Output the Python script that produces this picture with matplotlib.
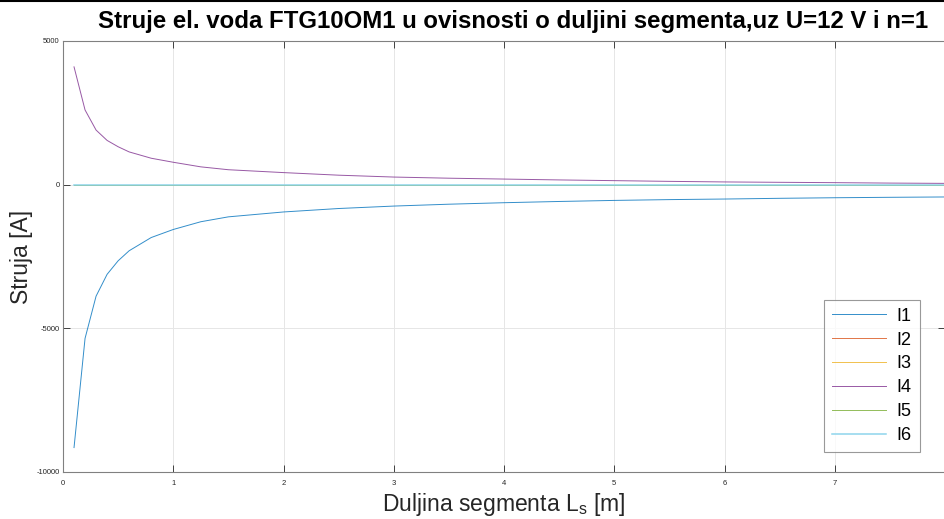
import matplotlib
matplotlib.use("Agg")
import matplotlib.pyplot as plt
from matplotlib.lines import Line2D

# segment length [m]
L = [0.1, 0.2, 0.3, 0.4, 0.5, 0.6, 0.8, 1.0, 1.25, 1.5, 2.0, 2.5, 3.0, 3.5,
     4.0, 4.5, 5.0, 5.5, 6.0, 6.5, 7.0, 7.5, 8.0]

# currents [A]
I1 = [-9150, -5350, -3880, -3120, -2650, -2300, -1840, -1560, -1290, -1120, -950,
      -830, -745, -680, -628, -585, -548, -520, -500, -475, -455, -440, -428]
I2 = [0] * len(L)
I3 = [0] * len(L)
I4 = [4100, 2600, 1900, 1540, 1320, 1140, 920, 780, 620, 520, 420, 330, 265, 225,
      195, 165, 140, 115, 95, 82, 70, 55, 45]
I5 = [0] * len(L)
I6 = [0] * len(L)

series = [("I1", I1, "#0072BD"), ("I2", I2, "#D95319"), ("I3", I3, "#EDB120"),
          ("I4", I4, "#7E2F8E"), ("I5", I5, "#77AC30"), ("I6", I6, "#8ED5EC")]

plt.rcParams['font.family'] = ['Liberation Sans', 'DejaVu Sans']
plt.rcParams['axes.unicode_minus'] = False

fig = plt.figure(figsize=(9.44, 5.19), dpi=100)
ax = fig.add_axes([63 / 944, 1 - 472 / 519, 882 / 944, (472 - 41) / 519])

for name, vals, col in series:
    if name == "I6":
        # drawn on top of the other zero-valued currents
        ax.plot(L, vals, color=col, linewidth=1.1, label=name, zorder=3)
    else:
        ax.plot(L, vals, color=col, linewidth=0.7, alpha=0.8, label=name)

ax.set_xlim(0, 8)
ax.set_ylim(-10000, 5000)
ax.set_xticks(range(0, 8))
ax.set_yticks([-10000, -5000, 0, 5000])
ax.tick_params(direction='in', labelsize=5.5, colors='#262626', length=5, width=0.6,
               top=True, right=True)
ax.tick_params(axis='y', pad=2.5)
ax.tick_params(axis='x', pad=6)
for sp in ax.spines.values():
    sp.set_color('#808080')
    sp.set_linewidth(0.8)
ax.grid(True, color='#e6e6e6', linewidth=0.7)

ax.set_title('Struje el. voda FTG10OM1 u ovisnosti o duljini segmenta,uz U=12 V i n=1',
             fontsize=17.3, fontweight='bold', pad=9, x=0.51)
ax.set_xlabel('Duljina segmenta L$_\\mathregular{s}$ [m]', fontsize=16.5, color='#262626', labelpad=3)
ax.set_ylabel('Struja [A]', fontsize=16.5, color='#262626')
ax.yaxis.set_label_coords(-0.034, 0.5)

leg = ax.legend(loc='lower right', bbox_to_anchor=(0.9717, 0.046), borderaxespad=0,
                fontsize=13, frameon=True, fancybox=False, handlelength=3.0,
                labelspacing=0.38, borderpad=0.45, handletextpad=0.6)
leg.get_frame().set_edgecolor('#808080')
leg.get_frame().set_linewidth(0.8)

# dark border line along the top edge of the screenshot
fig.add_artist(Line2D([0, 1], [0.999, 0.999], transform=fig.transFigure, color='black', linewidth=1.5))

plt.savefig('out.png', dpi=100)
